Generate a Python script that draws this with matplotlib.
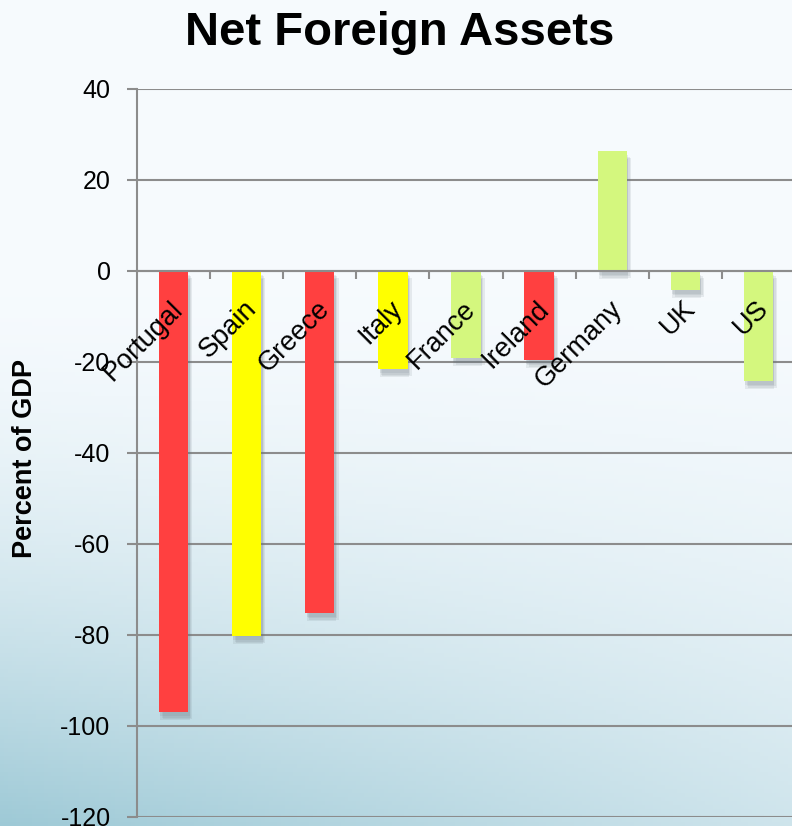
import numpy as np
import matplotlib
matplotlib.use('Agg')
import matplotlib.pyplot as plt
import matplotlib.patheffects as pe
from matplotlib.ticker import FixedLocator

plt.rcParams['font.family'] = ['Liberation Sans', 'DejaVu Sans']
plt.rcParams['axes.unicode_minus'] = False

countries = ['Portugal', 'Spain', 'Greece', 'Italy', 'France', 'Ireland', 'Germany', 'UK', 'US']
nfa_pct_gdp = [-97, -80.3, -75.2, -21.6, -19.1, -19.6, 26.3, -4.2, -24.2]
bar_colors = ['#FF4040', '#FFFF00', '#FF4040', '#FFFF00', '#D4F77E',
              '#FF4040', '#D4F77E', '#D4F77E', '#D4F77E']
y_ticks = [-120, -100, -80, -60, -40, -20, 0, 20, 40]

W, H = 792, 826
fig = plt.figure(figsize=(W / 100, H / 100), dpi=100)

# soft blue background, darker toward the bottom left
bg_ax = fig.add_axes([0, 0, 1, 1], zorder=-10)
yy, xx = np.mgrid[0:1:200j, 0:1:200j]
t = np.clip((yy - 0.35) / 0.65, 0, 1) ** 1.6
s = 1 - xx
k = t * (0.45 + 0.55 * s)
top = np.array([0.965, 0.982, 0.995])
low = np.array([0.62, 0.79, 0.84])
img = top[None, None, :] * (1 - k[..., None]) + low[None, None, :] * k[..., None]
bg_ax.imshow(img, extent=[0, 1, 0, 1], aspect='auto', origin='upper')
bg_ax.axis('off')

ax = fig.add_axes([137 / W, 1 - 816.7 / H, (795 - 137) / W, (816.7 - 88.7) / H])
ax.set_facecolor('none')

x = np.arange(len(countries))
bars = ax.bar(x, nfa_pct_gdp, width=0.4, color=bar_colors, zorder=3)
# stacked faint shadows to fake a blurred drop shadow
shadow = [pe.SimplePatchShadow(offset=(dx, dy), shadow_rgbFace='#6a7680', alpha=0.12)
          for dx, dy in [(1, -3), (2, -4), (3, -5), (1, -6)]]
for b in bars:
    b.set_path_effects(shadow + [pe.Normal()])

ax.set_xlim(-0.5, len(countries) - 0.5)
ax.set_ylim(-120, 40)
ax.yaxis.set_major_locator(FixedLocator(y_ticks))
ax.set_yticklabels([str(v) for v in y_ticks])
ax.grid(axis='y', color='#8C8C8C', linewidth=1.5, zorder=1)
ax.set_axisbelow(True)

for side in ['top', 'right']:
    ax.spines[side].set_visible(False)
ax.spines['left'].set_color('#8C8C8C')
ax.spines['left'].set_linewidth(1.5)
ax.spines['bottom'].set_position(('data', 0))
ax.spines['bottom'].set_color('#8C8C8C')
ax.spines['bottom'].set_linewidth(1.5)
ax.spines['bottom'].set_zorder(4)

ax.xaxis.set_major_locator(FixedLocator(x[:-1] + 0.5))
ax.tick_params(axis='x', direction='out', length=6, width=1.5, color='#8C8C8C', labelbottom=False)
ax.tick_params(axis='y', direction='out', length=7, width=1.5, color='#8C8C8C',
               labelsize=18, pad=12, labelcolor='black')

for i, name in enumerate(countries):
    ax.text(i + 0.08, -7.5, name, rotation=45, rotation_mode='anchor',
            ha='right', va='center', fontsize=19.5, color='black', zorder=5)

fig.text(400 / W, 1 - 33 / H, 'Net Foreign Assets', ha='center', va='center',
         fontsize=34, fontweight='bold')
fig.text(25 / W, 1 - 459 / H, 'Percent of GDP', rotation=90, ha='center', va='center',
         fontsize=19.5, fontweight='bold')

fig.savefig('out.png', dpi=100)
